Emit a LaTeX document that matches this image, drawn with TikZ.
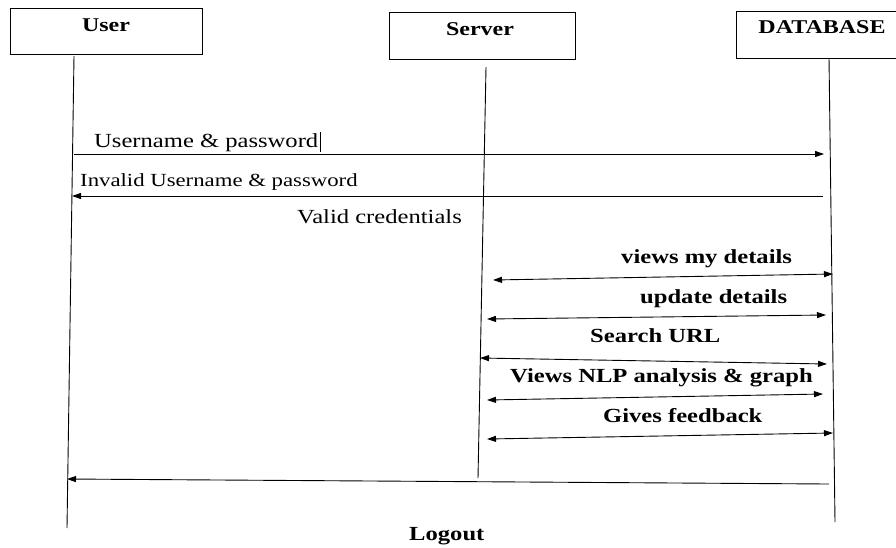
\documentclass[tikz,border=0pt]{standalone}
\usepackage{fontspec}
\setmainfont{Liberation Serif}
\usepackage{graphicx}
\usetikzlibrary{arrows.meta}
% wide lettering used throughout the chart
\newcommand{\wide}[1]{\scalebox{1.23}[1]{#1}}
\begin{document}
\begin{tikzpicture}[x=1pt,y=-1pt,
  lifebox/.style={draw,line width=0.9pt,rectangle,inner sep=0pt,anchor=north west},
  title/.style={font=\fontsize{19.5}{20}\selectfont\bfseries,inner sep=0pt},
  msg/.style={font=\fontsize{20}{22}\selectfont,inner sep=0pt,anchor=base west},
  msgsmall/.style={font=\fontsize{18.5}{20}\selectfont,inner sep=0pt,anchor=base west},
  msgbold/.style={font=\fontsize{20}{22}\selectfont\bfseries,inner sep=0pt,anchor=base west},
  lifeline/.style={line width=0.9pt},
  call/.style={line width=0.9pt,-{Triangle[length=9pt,width=6pt]}},
  both/.style={line width=0.9pt,{Triangle[length=9pt,width=6pt]}-{Triangle[length=9pt,width=6pt]}}]
\useasboundingbox (0,0) rectangle (896,547);
\fill[white] (0,0) rectangle (896,547);
\clip (0,0) rectangle (896,547);

% participants
\node[lifebox,minimum width=192pt,minimum height=46pt] (userbox) at (10,8) {};
\node[lifebox,minimum width=186pt,minimum height=47pt] (serverbox) at (389,12) {};
\node[lifebox,minimum width=170pt,minimum height=47pt] (dbbox) at (736,11) {};
\node[title] (usert) at (106,25) {\wide{User}};
\node[title] (servert) at (480,29) {\wide{Server}};
\node[title] (dbt) at (822,27) {\wide{DATABASE}};

% lifelines
\coordinate (u0) at (74,56);  \coordinate (u1) at (67,528);
\coordinate (s0) at (486,67); \coordinate (s1) at (478,478);
\coordinate (d0) at (829,58); \coordinate (d1) at (835,522);
\draw[lifeline] (u0) -- (u1);
\draw[lifeline] (s0) -- (s1);
\draw[lifeline] (d0) -- (d1);

% login exchange
\coordinate (m1a) at (74,154);  \coordinate (m1b) at (824,154);
\coordinate (m2a) at (823,196); \coordinate (m2b) at (72,196);
\draw[call] (m1a) -- (m1b);
\draw[call] (m2a) -- (m2b);
\node[msg] (l1) at (94,147) {\wide{Username \& password}};
\draw[line width=0.6pt] (l1.north east) ++(2,-1) coordinate (cur0) -- ++(0,20) coordinate (cur1);
\node[msgsmall] (l2) at (80,186) {\wide{Invalid Username \& password}};
\node[msg] (l3) at (297,223) {\wide{Valid credentials}};

% server <-> database exchanges
\coordinate (a1) at (493,280); \coordinate (b1) at (833,274);
\coordinate (a2) at (487,319); \coordinate (b2) at (826,315);
\coordinate (a3) at (480,358); \coordinate (b3) at (827,364);
\coordinate (a4) at (487,400); \coordinate (b4) at (823,394);
\coordinate (a5) at (487,439); \coordinate (b5) at (833,433);
\draw[both] (a1) -- (b1);
\draw[both] (a2) -- (b2);
\draw[both] (a3) -- (b3);
\draw[both] (a4) -- (b4);
\draw[both] (a5) -- (b5);
\node[msgbold] (t1) at (621,263) {\wide{views my details}};
\node[msgbold] (t2) at (640,303) {\wide{update details}};
\node[msgbold] (t3) at (590,342) {\wide{Search URL}};
\node[msgbold] (t4) at (510,382) {\wide{Views NLP analysis \& graph}};
\node[msgbold] (t5) at (603,422) {\wide{Gives feedback}};

% logout
\coordinate (lo0) at (829,484); \coordinate (lo1) at (67,479);
\draw[call] (lo0) -- (lo1);
\node[msgbold] (t6) at (409,540) {\wide{Logout}};
\end{tikzpicture}
\end{document}
